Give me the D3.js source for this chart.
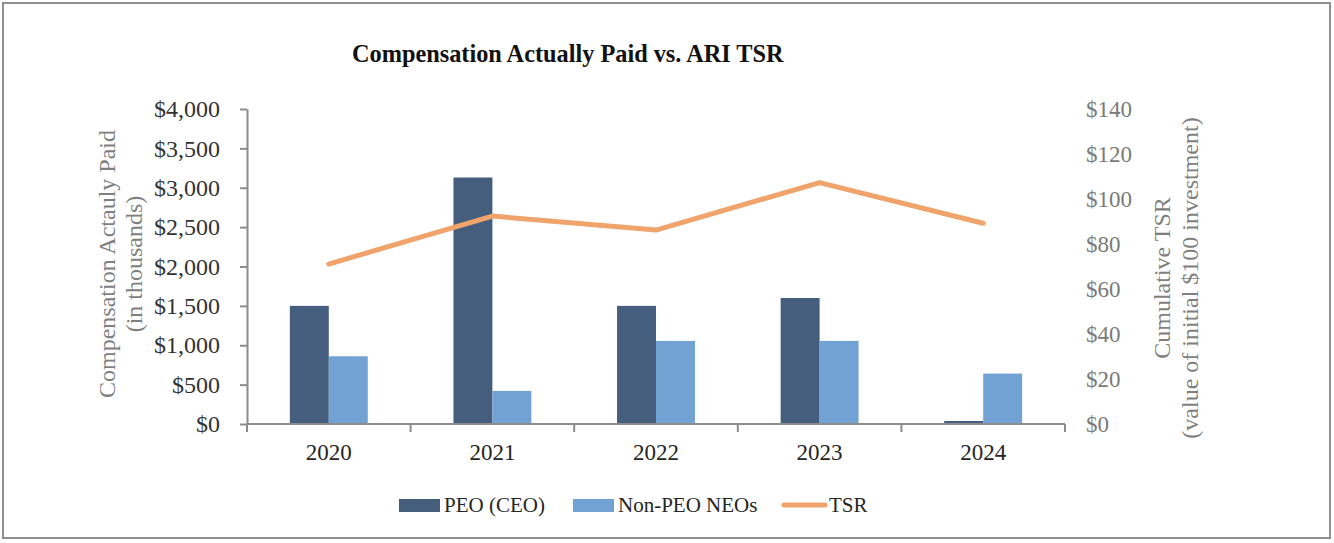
<!DOCTYPE html>
<html>
<head>
<meta charset="utf-8">
<script src="https://cdn.jsdelivr.net/npm/d3@7"></script>
<style>
  body { margin: 0; background: #fff; }
  svg text { font-family: "Liberation Serif", "Times New Roman", serif; }
</style>
</head>
<body>
<script>
// chart data
const years = ["2020", "2021", "2022", "2023", "2024"];
const peo = [1500, 3130, 1500, 1600, 38];     // $ thousands
const nonPeo = [860, 420, 1055, 1055, 640];   // $ thousands
const tsr = [71.1, 92.4, 86.2, 107.3, 89.2];  // value of $100
const leftTicks = [0, 500, 1000, 1500, 2000, 2500, 3000, 3500, 4000];
const rightTicks = [0, 20, 40, 60, 80, 100, 120, 140];

const W = 1334, H = 543;
const darkBlue = "#465e7e", lightBlue = "#72a2d4", orange = "#f0a46c", axisGray = "#8c8c8c";

const svg = d3.select("body").append("svg")
  .attr("width", W)
  .attr("height", H);

// outer frame
svg.append("rect")
  .attr("x", 3).attr("y", 3)
  .attr("width", 1327).attr("height", 535)
  .attr("fill", "none")
  .attr("stroke", "#8f8f8f")
  .attr("stroke-width", 2);

const plot = { left: 247, right: 1065, top: 109, bottom: 424 };

const x = d3.scaleBand().domain(years).range([plot.left, plot.right]).padding(0);
const x1 = d3.scaleBand().domain(["peo", "nonPeo"]).range([0, x.bandwidth()])
  .paddingInner(0).paddingOuter(1.1);
const yL = d3.scaleLinear().domain([0, 4000]).range([plot.bottom, plot.top]);
const yR = d3.scaleLinear().domain([0, 140]).range([plot.bottom, plot.top]);

// title
svg.append("text")
  .attr("x", 352).attr("y", 62)
  .attr("font-size", 24.3)
  .attr("font-weight", "bold")
  .attr("fill", "#111")
  .text("Compensation Actually Paid vs. ARI TSR");

// bars
const series = [
  { key: "peo", values: peo, color: darkBlue },
  { key: "nonPeo", values: nonPeo, color: lightBlue }
];
series.forEach(s => {
  svg.append("g").selectAll("rect")
    .data(years)
    .enter()
    .append("rect")
    .attr("x", (d) => x(d) + x1(s.key))
    .attr("y", (d, i) => yL(s.values[i]))
    .attr("width", x1.bandwidth())
    .attr("height", (d, i) => plot.bottom - yL(s.values[i]))
    .attr("fill", s.color);
});

// left axis
const gL = svg.append("g")
  .attr("transform", `translate(${plot.left},0)`)
  .call(d3.axisLeft(yL).tickValues(leftTicks).tickSize(7).tickSizeOuter(0).tickPadding(20)
    .tickFormat(d => "$" + d3.format(",")(d)));
gL.select(".domain").attr("stroke", axisGray).attr("stroke-width", 2);
gL.selectAll(".tick line").attr("stroke", axisGray).attr("stroke-width", 2);
gL.selectAll(".tick text").attr("font-size", 24).attr("fill", "#333")
  .attr("font-family", "Liberation Serif");

// right axis (labels only)
const gR = svg.append("g")
  .attr("transform", `translate(${plot.right},0)`)
  .call(d3.axisRight(yR).tickValues(rightTicks).tickSize(0).tickPadding(21)
    .tickFormat(d => "$" + d));
gR.select(".domain").remove();
gR.selectAll(".tick text").attr("font-size", 23).attr("fill", "#7a7a7a")
  .attr("font-family", "Liberation Serif");

// bottom axis
const gB = svg.append("g")
  .attr("transform", `translate(0,${plot.bottom})`)
  .call(d3.axisBottom(x).tickSize(0).tickPadding(20));
gB.select(".domain").remove();
gB.selectAll(".tick text").attr("font-size", 23).attr("fill", "#262626")
  .attr("font-family", "Liberation Serif");
gB.append("line")
  .attr("x1", plot.left).attr("x2", plot.right)
  .attr("stroke", axisGray).attr("stroke-width", 2);
gB.selectAll(".bound")
  .data(years.map(d => x(d)).concat([plot.right]))
  .enter()
  .append("line")
  .attr("class", "bound")
  .attr("x1", d => d).attr("x2", d => d)
  .attr("y1", 0).attr("y2", 8)
  .attr("stroke", axisGray).attr("stroke-width", 2);

// TSR line
const line = d3.line()
  .x((d, i) => x(years[i]) + x.bandwidth() / 2)
  .y(d => yR(d));
svg.append("path")
  .datum(tsr)
  .attr("d", line)
  .attr("fill", "none")
  .attr("stroke", orange)
  .attr("stroke-width", 5)
  .attr("stroke-linejoin", "round")
  .attr("stroke-linecap", "round");

// axis titles
const leftTitle = ["Compensation Actauly Paid", "(in thousands)"];
leftTitle.forEach((t, i) => {
  svg.append("text")
    .attr("transform", `translate(${107 + i * 27},264) rotate(-90)`)
    .attr("text-anchor", "middle")
    .attr("dominant-baseline", "central")
    .attr("font-size", 24)
    .attr("fill", "#7f7f7f")
    .text(t);
});
const rightTitle = ["Cumulative TSR", "(value of initial $100 investment)"];
rightTitle.forEach((t, i) => {
  svg.append("text")
    .attr("transform", `translate(${1162 + i * 28},278) rotate(-90)`)
    .attr("text-anchor", "middle")
    .attr("dominant-baseline", "central")
    .attr("font-size", 24)
    .attr("fill", "#7f7f7f")
    .text(t);
});

// legend
const legend = svg.append("g");
const legendY = 505;
const legendItems = [
  { label: "PEO (CEO)", type: "rect", color: darkBlue, x: 399 },
  { label: "Non-PEO NEOs", type: "rect", color: lightBlue, x: 573 },
  { label: "TSR", type: "line", color: orange, x: 782 }
];
legendItems.forEach(it => {
  if (it.type === "rect") {
    legend.append("rect")
      .attr("x", it.x).attr("y", legendY - 6)
      .attr("width", 41).attr("height", 13)
      .attr("fill", it.color);
  } else {
    legend.append("line")
      .attr("x1", it.x + 2).attr("x2", it.x + 43)
      .attr("y1", legendY).attr("y2", legendY)
      .attr("stroke", it.color).attr("stroke-width", 5)
      .attr("stroke-linecap", "round");
  }
  legend.append("text")
    .attr("x", it.x + (it.type === "rect" ? 45 : 47))
    .attr("y", legendY)
    .attr("dy", "0.35em")
    .attr("font-size", 21)
    .attr("fill", "#262626")
    .text(it.label);
});
</script>
</body>
</html>
